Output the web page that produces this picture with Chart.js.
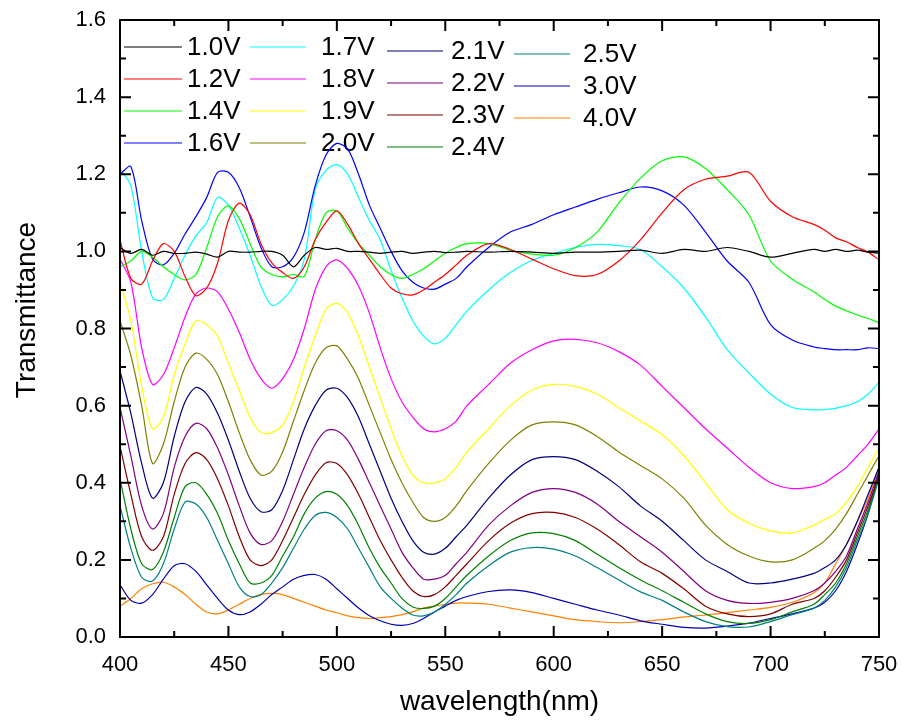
<!DOCTYPE html>
<html>
<head>
<meta charset="utf-8">
<title>Transmittance vs wavelength</title>
<script src="https://cdn.jsdelivr.net/npm/chart.js@4/dist/chart.umd.min.js"></script>
<style>
  html, body { margin: 0; padding: 0; background: #fff; }
  #wrap { width: 902px; height: 726px; }
</style>
</head>
<body>
<div id="wrap"><canvas id="chart" width="902" height="726"></canvas></div>
<script>
// wavelength grid (nm)
const wavelengths = [
  400, 405, 410, 415, 420, 425, 430, 435, 440, 445, 450, 455, 460, 465, 470, 475, 480, 485, 490, 495,
  500, 505, 510, 515, 520, 525, 530, 535, 540, 545, 550, 555, 560, 570, 580, 590, 600, 610, 620, 630,
  640, 650, 660, 670, 680, 690, 700, 710, 720, 725, 730, 735, 740, 745, 750
]

// transmittance for each applied voltage
const t10 = [
  1.01, 0.995, 1.005, 0.99, 1.0, 0.995, 0.995, 0.998, 0.993, 0.985, 1.0, 0.998, 0.998, 1.0, 1.0, 0.99, 0.96, 0.99, 1.01, 1.005,
  1.008, 1.0, 1.0, 0.998, 0.995, 0.998, 1.0, 0.995, 0.998, 1.0, 0.997, 0.998, 1.0, 0.998, 1.0, 0.998, 0.995, 0.998, 0.998, 1.0,
  1.003, 0.995, 1.005, 1.0, 1.01, 1.0, 0.985, 0.995, 1.005, 1.0, 1.005, 1.0, 1.003, 0.998, 0.995
]
const t12 = [
  1.03, 0.93, 0.915, 0.975, 1.02, 1.0, 0.935, 0.885, 0.905, 0.97, 1.08, 1.125, 1.095, 1.02, 0.97, 0.945, 0.93, 0.96, 1.03, 1.075,
  1.105, 1.07, 1.02, 0.98, 0.94, 0.905, 0.89, 0.887, 0.9, 0.92, 0.94, 0.965, 0.99, 1.02, 1.005, 0.98, 0.955, 0.937, 0.94, 0.975,
  1.03, 1.1, 1.16, 1.187, 1.195, 1.205, 1.13, 1.09, 1.07, 1.055, 1.035, 1.025, 1.01, 0.998, 0.978
]
const t14 = [
  0.96, 0.975, 1.0, 0.985, 0.96, 0.94, 0.926, 0.94, 1.01, 1.09, 1.118, 1.085, 1.02, 0.96, 0.94, 0.934, 0.94, 0.935, 1.03, 1.1,
  1.105, 1.06, 1.02, 0.99, 0.96, 0.94, 0.93, 0.94, 0.955, 0.975, 0.995, 1.01, 1.02, 1.02, 1.003, 0.993, 0.99, 1.01, 1.05, 1.125,
  1.19, 1.235, 1.245, 1.215, 1.16, 1.095, 0.975, 0.928, 0.895, 0.875, 0.858, 0.846, 0.835, 0.826, 0.815
]
const t16 = [
  1.2, 1.22, 1.08, 0.98, 0.965, 0.995, 1.045, 1.09, 1.14, 1.205, 1.205, 1.165, 1.09, 1.01, 0.96, 0.96, 0.985, 1.05, 1.17, 1.25,
  1.28, 1.265, 1.2, 1.12, 1.06, 1.0, 0.95, 0.92, 0.905, 0.902, 0.915, 0.93, 0.96, 1.01, 1.05, 1.07, 1.095, 1.115, 1.135, 1.152,
  1.167, 1.157, 1.12, 1.05, 0.975, 0.92, 0.81, 0.77, 0.752, 0.748, 0.745, 0.745, 0.745, 0.75, 0.748
]
const t17 = [
  1.215, 1.17, 1.0, 0.88, 0.875, 0.93, 0.99, 1.04, 1.075, 1.14, 1.12, 1.06, 0.99, 0.91, 0.86, 0.875, 0.91, 0.98, 1.16, 1.21,
  1.225, 1.2, 1.14, 1.08, 1.03, 0.95, 0.88, 0.82, 0.78, 0.76, 0.775, 0.81, 0.845, 0.9, 0.945, 0.977, 0.995, 1.01, 1.018, 1.015,
  1.005, 0.96, 0.905, 0.83, 0.745, 0.685, 0.63, 0.595, 0.589, 0.59, 0.593, 0.6, 0.61, 0.63, 0.66
]
const t18 = [
  0.98, 0.92, 0.75, 0.655, 0.68, 0.75, 0.83, 0.89, 0.905, 0.895, 0.85, 0.79, 0.72, 0.67, 0.645, 0.67, 0.72, 0.8, 0.9, 0.96,
  0.978, 0.955, 0.91, 0.84, 0.75, 0.67, 0.61, 0.57, 0.54, 0.532, 0.54, 0.56, 0.6, 0.655, 0.71, 0.745, 0.768, 0.772, 0.763, 0.74,
  0.705, 0.65, 0.595, 0.54, 0.49, 0.44, 0.4, 0.385, 0.39, 0.4, 0.42, 0.44, 0.47, 0.5, 0.54
]
const t19 = [
  0.92, 0.82, 0.65, 0.54, 0.57, 0.68, 0.76, 0.82, 0.81, 0.78, 0.71, 0.64, 0.57, 0.53, 0.53, 0.55, 0.61, 0.7, 0.78, 0.85,
  0.865, 0.84, 0.78, 0.7, 0.62, 0.54, 0.47, 0.42, 0.4, 0.4, 0.41, 0.44, 0.48, 0.54, 0.6, 0.64, 0.655, 0.65, 0.63, 0.595,
  0.56, 0.525, 0.47, 0.4, 0.33, 0.295, 0.275, 0.27, 0.29, 0.305, 0.32, 0.35, 0.39, 0.44, 0.49
]
const t20 = [
  0.82, 0.73, 0.6, 0.45, 0.5, 0.61, 0.7, 0.736, 0.72, 0.68, 0.61, 0.53, 0.46, 0.42, 0.43, 0.48, 0.56, 0.64, 0.71, 0.75,
  0.755, 0.72, 0.67, 0.6, 0.53, 0.46, 0.4, 0.35, 0.31, 0.3, 0.31, 0.34, 0.38, 0.45, 0.51, 0.55, 0.558, 0.55, 0.52, 0.48,
  0.445, 0.41, 0.36, 0.29, 0.24, 0.21, 0.195, 0.2, 0.23, 0.25, 0.28, 0.32, 0.37, 0.42, 0.47
]
const t21 = [
  0.69, 0.58, 0.45, 0.36, 0.4, 0.52, 0.61, 0.647, 0.63, 0.58, 0.51, 0.43, 0.36, 0.325, 0.33, 0.38, 0.46, 0.54, 0.6, 0.64,
  0.645, 0.62, 0.57, 0.5, 0.43, 0.36, 0.3, 0.25, 0.22, 0.215, 0.23, 0.26, 0.29, 0.36, 0.42, 0.46, 0.468, 0.46, 0.43, 0.39,
  0.34, 0.3, 0.25, 0.2, 0.17, 0.14, 0.14, 0.15, 0.165, 0.18, 0.2, 0.24, 0.3, 0.37, 0.44
]
const t22 = [
  0.595, 0.47, 0.34, 0.28, 0.32, 0.44, 0.52, 0.554, 0.54, 0.49, 0.42, 0.34, 0.27, 0.24, 0.25, 0.3, 0.37, 0.44, 0.5, 0.535,
  0.535, 0.51, 0.46, 0.4, 0.34, 0.28, 0.22, 0.18, 0.15, 0.15, 0.16, 0.19, 0.22, 0.29, 0.34, 0.375, 0.385, 0.375, 0.345, 0.3,
  0.26, 0.22, 0.17, 0.12, 0.095, 0.087, 0.09, 0.1, 0.12, 0.14, 0.17, 0.21, 0.28, 0.35, 0.43
]
const t23 = [
  0.495, 0.37, 0.26, 0.225, 0.26, 0.37, 0.45, 0.478, 0.46, 0.41, 0.34, 0.26, 0.2, 0.185, 0.2, 0.25, 0.31, 0.37, 0.42, 0.452,
  0.45, 0.42, 0.37, 0.31, 0.25, 0.2, 0.155, 0.12, 0.105, 0.11, 0.13, 0.16, 0.19, 0.25, 0.295, 0.32, 0.323, 0.31, 0.28, 0.24,
  0.195, 0.165, 0.125, 0.08, 0.06, 0.053, 0.06, 0.085, 0.1, 0.12, 0.155, 0.2, 0.27, 0.34, 0.42
]
const t24 = [
  0.41, 0.28, 0.19, 0.175, 0.22, 0.31, 0.39, 0.4, 0.37, 0.32, 0.25, 0.19, 0.14, 0.14, 0.16, 0.21, 0.26, 0.32, 0.36, 0.377,
  0.37, 0.34, 0.29, 0.23, 0.18, 0.14, 0.1, 0.078, 0.074, 0.08, 0.1, 0.13, 0.16, 0.21, 0.25, 0.27, 0.268, 0.25, 0.215, 0.18,
  0.148, 0.12, 0.09, 0.06, 0.04, 0.035, 0.045, 0.065, 0.085, 0.11, 0.14, 0.19, 0.26, 0.33, 0.42
]
const t25 = [
  0.34, 0.23, 0.155, 0.145, 0.19, 0.28, 0.35, 0.345, 0.31, 0.25, 0.19, 0.13, 0.105, 0.11, 0.14, 0.18, 0.23, 0.28, 0.315, 0.323,
  0.31, 0.28, 0.23, 0.18, 0.13, 0.1, 0.075, 0.057, 0.055, 0.065, 0.085, 0.11, 0.14, 0.185, 0.22, 0.232, 0.228, 0.21, 0.18, 0.148,
  0.117, 0.095, 0.065, 0.04, 0.027, 0.026, 0.04, 0.058, 0.075, 0.095, 0.13, 0.18, 0.25, 0.32, 0.41
]
const t30 = [
  0.135, 0.095, 0.088, 0.11, 0.15, 0.185, 0.19, 0.17, 0.135, 0.1, 0.07, 0.058, 0.065, 0.085, 0.11, 0.13, 0.15, 0.16, 0.162, 0.15,
  0.125, 0.1, 0.075, 0.055, 0.042, 0.033, 0.03, 0.035, 0.048, 0.065, 0.08, 0.095, 0.105, 0.118, 0.122, 0.115, 0.1, 0.085, 0.07, 0.057,
  0.042, 0.033, 0.025, 0.023, 0.028, 0.036, 0.048, 0.06, 0.075, 0.09, 0.12, 0.17, 0.24, 0.32, 0.43
]
const t40 = [
  0.08, 0.1, 0.125, 0.138, 0.142, 0.13, 0.11, 0.085, 0.065, 0.06, 0.07, 0.085, 0.1, 0.11, 0.113, 0.11, 0.1, 0.09, 0.08, 0.07,
  0.063, 0.055, 0.05, 0.048, 0.05, 0.053, 0.058, 0.065, 0.075, 0.08, 0.085, 0.088, 0.088, 0.085, 0.075, 0.065, 0.055, 0.045, 0.04, 0.037,
  0.04, 0.045, 0.052, 0.057, 0.063, 0.07, 0.077, 0.09, 0.115, 0.14, 0.19, 0.24, 0.3, 0.36, 0.44
]

const seriesNames = ['1.0V', '1.2V', '1.4V', '1.6V', '1.7V', '1.8V', '1.9V', '2.0V',
                     '2.1V', '2.2V', '2.3V', '2.4V', '2.5V', '3.0V', '4.0V']
const seriesValues = [t10, t12, t14, t16, t17, t18, t19, t20, t21, t22, t23, t24, t25, t30, t40]
const seriesColors = ['#000000', '#ff0000', '#00ff00', '#0000ff', '#00ffff', '#ff00ff', '#ffff00', '#808000',
                      '#000080', '#800080', '#800000', '#008000', '#008080', '#0000b0', '#ff8000']

const FONT = '"Liberation Sans", Arial, sans-serif'

// box frame with inward ticks on all four sides, plus the y title
const framePlugin = {
  id: 'frame',
  afterDatasetsDraw(chart) {
    const { ctx, chartArea: a, scales: { x, y } } = chart
    ctx.save()
    ctx.strokeStyle = '#000'
    ctx.lineWidth = 2
    ctx.beginPath()
    for (let w = 400; w <= 750; w += 25) {
      const px = x.getPixelForValue(w)
      const len = w % 50 === 0 ? 11 : 6
      ctx.moveTo(px, a.bottom); ctx.lineTo(px, a.bottom - len)
      ctx.moveTo(px, a.top); ctx.lineTo(px, a.top + len)
    }
    for (let k = 0; k <= 16; k++) {
      const py = y.getPixelForValue(k / 10)
      const len = k % 2 === 0 ? 11 : 6
      ctx.moveTo(a.left, py); ctx.lineTo(a.left + len, py)
      ctx.moveTo(a.right, py); ctx.lineTo(a.right - len, py)
    }
    ctx.stroke()
    ctx.strokeRect(a.left, a.top, a.right - a.left, a.bottom - a.top)

    // y axis title, sitting a little above the plot's middle as in the source figure
    ctx.translate(27, 310)
    ctx.rotate(-Math.PI / 2)
    ctx.font = '28px ' + FONT
    ctx.fillStyle = '#000'
    ctx.textAlign = 'center'
    ctx.textBaseline = 'middle'
    ctx.fillText('Transmittance', 0, 0)
    ctx.restore()
  }
}

// four-column legend inside the plot, under the curves
const legendPlugin = {
  id: 'colLegend',
  beforeDatasetsDraw(chart) {
    const { ctx } = chart
    const cols = [
      { x0: 124, x1: 182, tx: 187, y0: 47 },
      { x0: 250, x1: 306, tx: 321, y0: 47 },
      { x0: 387, x1: 443, tx: 451, y0: 51 },
      { x0: 514, x1: 570, tx: 583, y0: 54 }
    ]
    const rowGap = 32
    ctx.save()
    ctx.font = '26px ' + FONT
    ctx.textBaseline = 'middle'
    ctx.textAlign = 'left'
    seriesNames.forEach((name, i) => {
      const c = cols[Math.floor(i / 4)]
      const yy = c.y0 + (i % 4) * rowGap
      ctx.strokeStyle = seriesColors[i]
      ctx.lineWidth = 1.2
      ctx.beginPath()
      ctx.moveTo(c.x0, yy); ctx.lineTo(c.x1, yy)
      ctx.stroke()
      ctx.fillStyle = '#000'
      ctx.fillText(name, c.tx, yy + 1)
    })
    ctx.restore()
  }
}

const datasets = seriesNames.map((name, i) => ({
  label: name,
  data: seriesValues[i].map((v, j) => ({ x: wavelengths[j], y: v })),
  borderColor: seriesColors[i],
  borderWidth: 1.2,
  pointRadius: 0,
  fill: false,
  tension: 0.3
}))

new Chart(document.getElementById('chart'), {
  type: 'line',
  data: { datasets },
  options: {
    responsive: false,
    animation: false,
    devicePixelRatio: 1,
    layout: { padding: { top: 20, right: 23, left: 0, bottom: 0 } },
    plugins: { legend: { display: false }, tooltip: { enabled: false } },
    scales: {
      x: {
        type: 'linear',
        min: 400,
        max: 750,
        grid: { display: false, drawTicks: false },
        border: { display: false },
        ticks: { stepSize: 50, color: '#000', font: { family: FONT, size: 22 }, padding: 15, maxRotation: 0 },
        title: { display: true, text: 'wavelength(nm)', color: '#000', font: { family: FONT, size: 28 }, padding: { top: 0, bottom: 7 } },
        afterFit: s => { s.height = 89; s.paddingLeft = 0; s.paddingRight = 0 }
      },
      y: {
        min: 0,
        max: 1.6,
        grid: { display: false, drawTicks: false },
        border: { display: false },
        ticks: { stepSize: 0.2, color: '#000', font: { family: FONT, size: 22 }, padding: 14, callback: v => v.toFixed(1) },
        title: { display: false },
        afterFit: s => { s.width = 120; s.paddingTop = 0; s.paddingBottom = 0 }
      }
    }
  },
  plugins: [legendPlugin, framePlugin]
})
</script>
</body>
</html>
